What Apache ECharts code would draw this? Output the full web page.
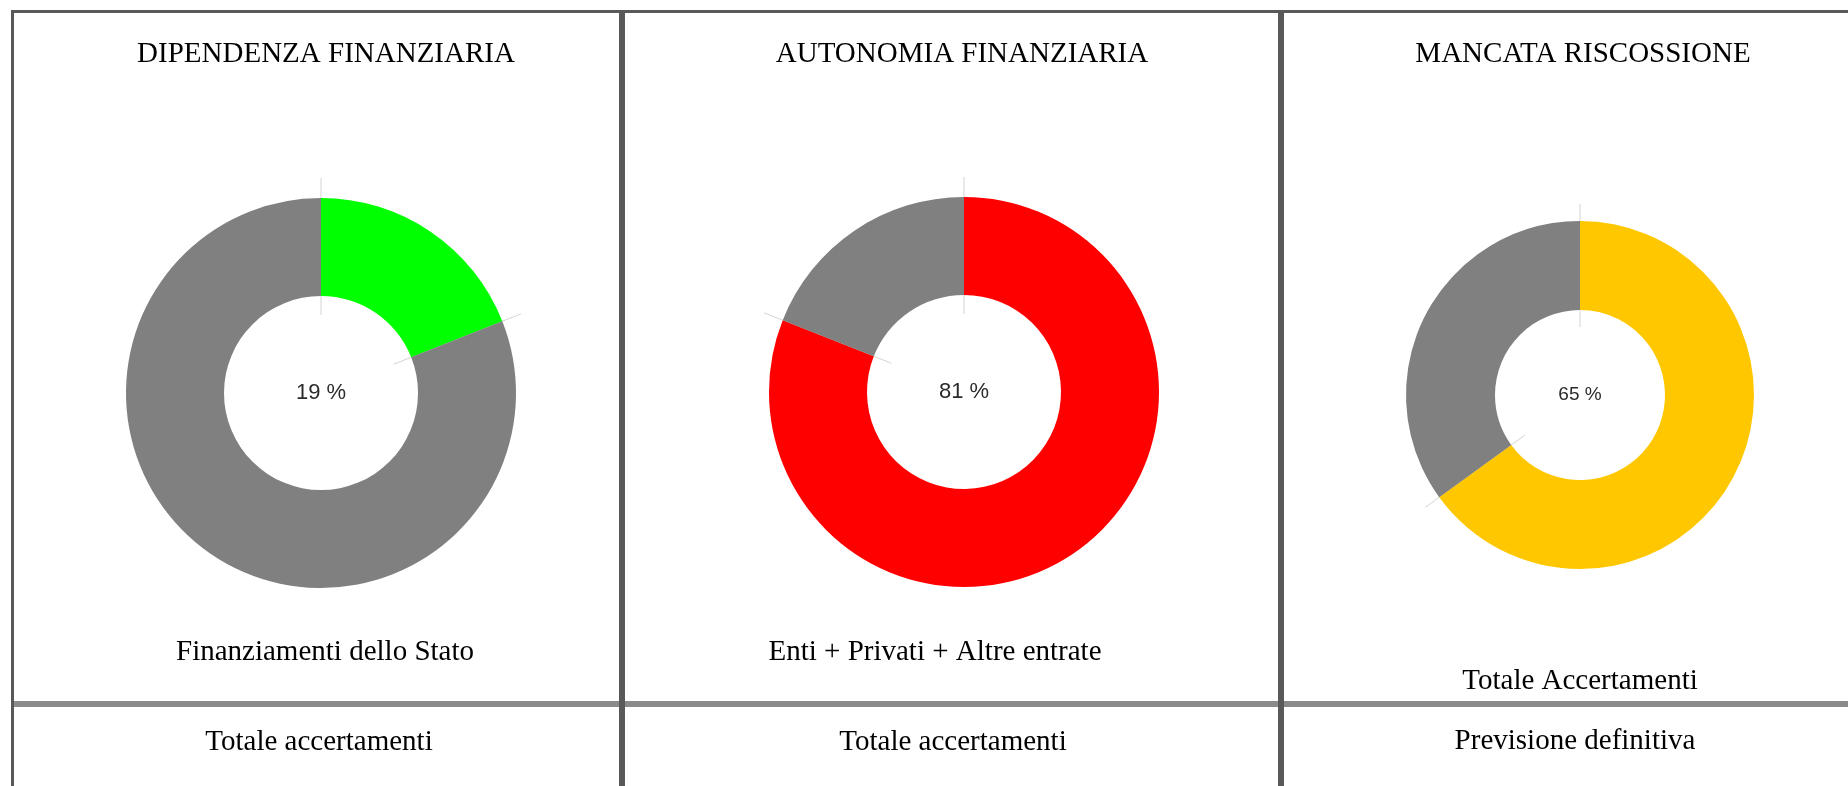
<!DOCTYPE html>
<html lang="it">
<head>
    <meta charset="UTF-8">
    <title>Indicatori finanziari</title>
    <style>
        html, body { margin: 0; padding: 0; background: #fff; }
        #chart { width: 1848px; height: 786px; }
    </style>
</head>
<body>
    <div id="chart"></div>
    <script src="https://cdn.jsdelivr.net/npm/echarts@6/dist/echarts.min.js"></script>
    <script>
        // dati
        var titoli = ['DIPENDENZA FINANZIARIA', 'AUTONOMIA FINANZIARIA', 'MANCATA RISCOSSIONE'];
        var numeratori = ['Finanziamenti dello Stato', 'Enti + Privati + Altre entrate', 'Totale Accertamenti'];
        var denominatori = ['Totale accertamenti', 'Totale accertamenti', 'Previsione definitiva'];
        var quota = [19, 81, 65];      // parte colorata (%)
        var resto = [81, 19, 35];      // parte grigia (%)
        var colori = ['#00ff00', '#ff0000', '#ffc700'];
        var grigio = '#808080';

        // posizione di ogni pannello (pixel)
        var pannelli = [
            { cx: 321, cy: 393, r: 97, R: 195, tx: 326, nx: 325, ny: 652, dx: 319, dy: 742, fs: 22 },
            { cx: 964, cy: 392, r: 97, R: 195, tx: 962, nx: 935, ny: 652, dx: 953, dy: 742, fs: 22 },
            { cx: 1580, cy: 395, r: 85, R: 174, tx: 1583, nx: 1580, ny: 681, dx: 1575, dy: 741, fs: 19 }
        ];

        var serif = '29px "Liberation Serif", "Times New Roman", serif';
        var chart = echarts.init(document.getElementById('chart'));

        var series = [];
        var polar = [];
        var angleAxis = [];
        var radiusAxis = [];
        var graphic = [];

        pannelli.forEach(function (p, i) {
            var rMax = Math.round(p.R * 1.1);
            var rMin = Math.round(p.r * 0.8);

            // sistema polare usato solo per le lineette sui bordi degli spicchi
            polar.push({ center: [p.cx, p.cy], radius: rMax });
            angleAxis.push({ polarIndex: i, type: 'value', min: 0, max: 100, startAngle: 90, clockwise: true, show: false });
            radiusAxis.push({ polarIndex: i, type: 'value', min: 0, max: rMax, show: false });

            series.push({
                type: 'custom',
                coordinateSystem: 'polar',
                polarIndex: i,
                z: 1,
                silent: true,
                data: [[0, 0], [0, quota[i]]],
                renderItem: function (params, api) {
                    var a = api.value(1);
                    var p1 = api.coord([rMin, a]);
                    var p2 = api.coord([rMax, a]);
                    return {
                        type: 'line',
                        shape: { x1: p1[0], y1: p1[1], x2: p2[0], y2: p2[1] },
                        style: { stroke: '#d4d4d4', lineWidth: 1 }
                    };
                }
            });

            series.push({
                type: 'pie',
                z: 2,
                center: [p.cx, p.cy],
                radius: [p.r, p.R],
                startAngle: 90,
                clockwise: true,
                silent: true,
                itemStyle: { borderWidth: 0 },
                label: { show: false },
                labelLine: { show: false },
                data: [
                    {
                        value: quota[i],
                        itemStyle: { color: colori[i] },
                        label: {
                            show: true,
                            position: 'center',
                            formatter: function (d) { return d.value + ' %'; },
                            color: '#2b2b2b',
                            fontSize: p.fs,
                            fontFamily: '"Liberation Sans", Arial, sans-serif'
                        }
                    },
                    { value: resto[i], itemStyle: { color: grigio } }
                ]
            });

            graphic.push(
                { type: 'text', x: p.tx, y: 54, style: { text: titoli[i], font: serif, fill: '#000', textAlign: 'center', textVerticalAlign: 'middle' } },
                { type: 'text', x: p.nx, y: p.ny, style: { text: numeratori[i], font: serif, fill: '#000', textAlign: 'center', textVerticalAlign: 'middle' } },
                { type: 'text', x: p.dx, y: p.dy, style: { text: denominatori[i], font: serif, fill: '#000', textAlign: 'center', textVerticalAlign: 'middle' } }
            );
        });

        // bordi della tabella
        var bordo = '#595959';
        graphic.push(
            { type: 'rect', shape: { x: 11, y: 10, width: 1837, height: 3 }, style: { fill: bordo } },
            { type: 'rect', shape: { x: 11, y: 701, width: 1837, height: 6 }, style: { fill: '#8a8a8a' } },
            { type: 'rect', shape: { x: 11, y: 10, width: 3, height: 776 }, style: { fill: bordo } },
            { type: 'rect', shape: { x: 619, y: 10, width: 6, height: 776 }, style: { fill: bordo } },
            { type: 'rect', shape: { x: 1278, y: 10, width: 6, height: 776 }, style: { fill: bordo } }
        );

        var option = {
            backgroundColor: '#fff',
            animation: false,
            polar: polar,
            angleAxis: angleAxis,
            radiusAxis: radiusAxis,
            graphic: graphic,
            series: series
        };

        chart.setOption(option);
    </script>
</body>
</html>
